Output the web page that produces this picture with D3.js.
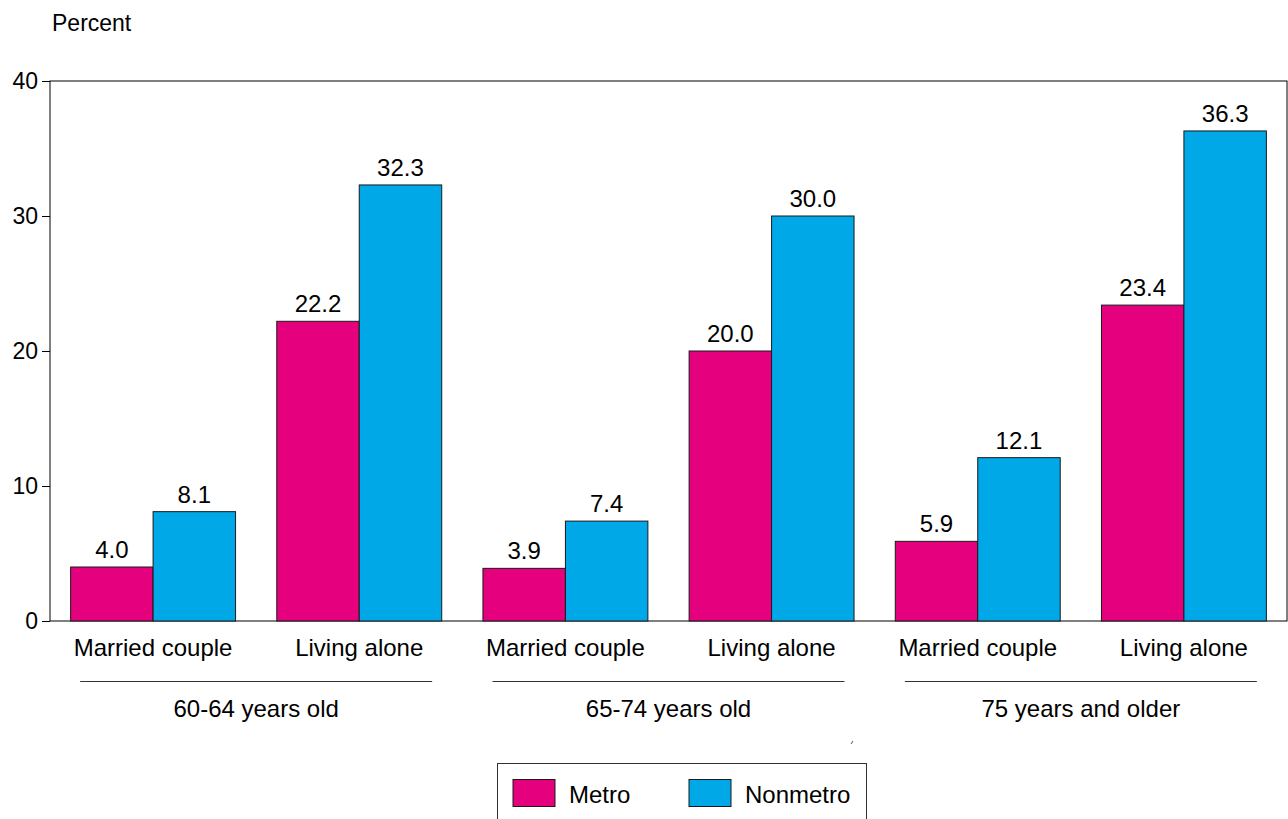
<!DOCTYPE html>
<html>
<head>
<meta charset="utf-8">
<script src="https://cdn.jsdelivr.net/npm/d3@7"></script>
<style>
  html, body { margin: 0; padding: 0; background: #fff; }
  svg { display: block; font-family: "Liberation Sans", Arial, sans-serif; }
</style>
</head>
<body>
<svg id="chart" width="1288" height="819"></svg>
<script>
// Household type shares by age group, metro vs nonmetro
const ageGroups = ["60-64 years old", "65-74 years old", "75 years and older"];
const householdTypes = ["Married couple", "Living alone"];
const seriesNames = ["Metro", "Nonmetro"];
const metroValues = [4.0, 22.2, 3.9, 20.0, 5.9, 23.4];
const nonmetroValues = [8.1, 32.3, 7.4, 30.0, 12.1, 36.3];
const yTicks = [0, 10, 20, 30, 40];

const colors = { Metro: "#e5007d", Nonmetro: "#00a8e8" };
const FS = 24;

// one cluster per (age group, household type)
const clusters = [];
ageGroups.forEach((g, gi) => {
  householdTypes.forEach((t, ti) => {
    const i = gi * householdTypes.length + ti;
    clusters.push({ key: g + "|" + t, group: g, type: t,
      values: { Metro: metroValues[i], Nonmetro: nonmetroValues[i] } });
  });
});

const svg = d3.select("#chart");
const plotLeft = 50, plotRight = 1287, plotTop = 81, plotBottom = 621;

const x = d3.scaleBand().domain(clusters.map(d => d.key))
  .range([plotLeft, plotRight]).paddingInner(0.2).paddingOuter(0.1);
const xs = d3.scaleBand().domain(seriesNames).range([0, x.bandwidth()]);
const y = d3.scaleLinear().domain([0, 40]).range([plotBottom, plotTop]);

// plot frame
svg.append("rect").attr("x", plotLeft).attr("y", plotTop)
  .attr("width", plotRight - plotLeft).attr("height", plotBottom - plotTop)
  .attr("fill", "none").attr("stroke", "#000").attr("stroke-width", 1);

// y axis
const yAxis = d3.axisLeft(y).tickValues(yTicks).tickSize(8).tickPadding(4)
  .tickFormat(d3.format("d"));
const ya = svg.append("g").attr("transform", `translate(${plotLeft},0)`).call(yAxis);
ya.select(".domain").remove();
ya.selectAll("text").attr("font-size", FS - 1).attr("fill", "#000")
  .attr("font-family", "Liberation Sans, Arial, sans-serif");
ya.selectAll("line").attr("stroke", "#000");

svg.append("text").attr("x", 52).attr("y", 31)
  .attr("font-size", FS - 1).attr("fill", "#000").text("Percent");

// bars
const cg = svg.append("g").selectAll("g").data(clusters).join("g")
  .attr("transform", d => `translate(${x(d.key)},0)`);

cg.selectAll("rect").data(d => seriesNames.map(s => ({ s, v: d.values[s] })))
  .join("rect")
  .attr("x", d => xs(d.s)).attr("width", xs.bandwidth())
  .attr("y", d => y(d.v)).attr("height", d => y(0) - y(d.v))
  .attr("fill", d => colors[d.s]).attr("stroke", "#1a1a1a").attr("stroke-width", 1);

cg.selectAll("text.val").data(d => seriesNames.map(s => ({ s, v: d.values[s] })))
  .join("text").attr("class", "val")
  .attr("x", d => xs(d.s) + xs.bandwidth() / 2)
  .attr("y", d => y(d.v) - 9)
  .attr("text-anchor", "middle").attr("font-size", FS).attr("fill", "#000")
  .text(d => d3.format(".1f")(d.v));

// household type labels
svg.append("g").selectAll("text").data(clusters).join("text")
  .attr("x", d => x(d.key) + x.bandwidth() / 2)
  .attr("y", 656)
  .attr("text-anchor", "middle").attr("font-size", FS).attr("fill", "#000")
  .text(d => d.type);

// age group rules and labels
const groupCenter = g => {
  const ks = clusters.filter(c => c.group === g).map(c => c.key);
  return (x(ks[0]) + x(ks[ks.length - 1]) + x.bandwidth()) / 2;
};
const gg = svg.append("g").selectAll("g").data(ageGroups).join("g");
gg.append("line")
  .attr("x1", d => groupCenter(d) - 176).attr("x2", d => groupCenter(d) + 176)
  .attr("y1", 681.5).attr("y2", 681.5)
  .attr("stroke", "#333").attr("stroke-width", 1);
gg.append("text")
  .attr("x", d => groupCenter(d)).attr("y", 717)
  .attr("text-anchor", "middle").attr("font-size", FS).attr("fill", "#000")
  .text(d => d);

// small stray mark under the middle group
svg.append("line").attr("x1", 851).attr("y1", 744).attr("x2", 853).attr("y2", 741)
  .attr("stroke", "#555").attr("stroke-width", 1);

// legend
const lg = svg.append("g");
lg.append("rect").attr("x", 497.5).attr("y", 763.5).attr("width", 369).attr("height", 70)
  .attr("fill", "#fff").attr("stroke", "#333").attr("stroke-width", 1);
const legendX = { Metro: 513, Nonmetro: 689 };
seriesNames.forEach(s => {
  lg.append("rect").attr("x", legendX[s]).attr("y", 779.5)
    .attr("width", 42).attr("height", 27)
    .attr("fill", colors[s]).attr("stroke", "#1a1a1a").attr("stroke-width", 1);
  lg.append("text").attr("x", legendX[s] + 56).attr("y", 803)
    .attr("font-size", FS).attr("fill", "#000").text(s);
});
</script>
</body>
</html>
